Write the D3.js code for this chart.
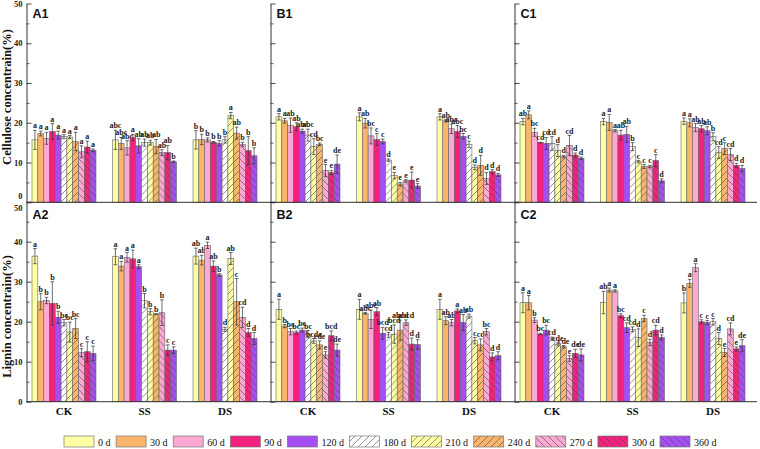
<!DOCTYPE html>
<html><head><meta charset="utf-8">
<script src="https://cdn.jsdelivr.net/npm/d3@7"></script>
<style>body{margin:0;background:#fff}svg{display:block}</style>
</head><body><svg id="c" width="760" height="449"></svg>
<script>
const categories = ["CK","SS","DS"];
const periods = ["0 d","30 d","60 d","90 d","120 d","180 d","210 d","240 d","270 d","300 d","360 d"];
const yTicks = [0,10,20,30,40,50];
const yMinorTicks = [5,15,25,35,45];
const yTitles = ["Cellulose concentrain(%)","Lignin concentrain(%)"];
const panelLabels = [["A1","B1","C1"],["A2","B2","C2"]];

// ---- A1 (cellulose) ----
const A1_mean = [[15.7,17.3,16.1,17.8,16.9,16.5,16.4,15.3,12.7,13.9,13.1],[15.7,14.8,13.7,16.3,14.2,15.0,15.0,14.0,12.5,12.5,10.2],[15.7,15.8,15.7,15.1,14.8,15.7,21.8,17.4,14.6,13.0,11.7]];
const A1_err  = [[2.4,0.6,1.5,2.0,1.0,0.5,0.4,2.3,1.5,1.5,0.3],[2.4,1.5,1.8,0.8,1.8,0.9,0.6,1.8,0.7,1.8,0.2],[2.3,1.3,0.5,0.2,0.7,0.8,0.8,1.5,0.5,3.5,2.0]];
const A1_sig  = [["a","a","a","a","a","a","a","a","a","a","a"],["abc","abc","abc","a","ab","ab","ab","ab","ab","ab","b"],["b","b","b","b","b","b","a","ab","b","b","b"]];
// ---- B1 ----
const B1_mean = [[21.5,20.5,19.4,19.0,17.9,16.9,14.0,14.6,8.0,7.5,9.6],[21.5,19.9,16.7,15.8,15.3,10.6,6.7,4.6,5.4,5.6,4.1],[21.5,20.5,18.5,17.8,16.6,14.6,8.8,9.3,6.0,7.7,6.9]];
const B1_err  = [[0.8,0.6,1.8,1.0,0.5,1.5,2.0,0.3,1.5,0.5,2.3],[1.0,1.2,2.0,1.5,0.6,0.3,0.8,0.4,0.3,2.0,0.6],[0.8,0.3,1.2,1.5,0.7,0.8,0.6,2.5,1.5,0.5,0.4]];
const B1_sig  = [["a","a","ab","ab","abc","abc","cd","bc","e","e","de"],["a","ab","bc","c","c","d","e","e","e","e","e"],["a","ab","abc","abc","bc","c","d","d","d","d","d"]];
// ---- C1 ----
const C1_mean = [[20.3,22.0,17.6,15.0,14.8,14.8,13.0,11.5,14.3,11.9,11.1],[20.3,20.1,18.0,16.9,17.1,14.0,10.2,9.0,9.0,10.5,5.4],[20.4,20.0,18.8,18.5,18.0,16.5,12.5,13.5,12.0,9.3,8.5]];
const C1_err  = [[0.8,1.0,1.0,0.1,1.5,1.7,1.5,0.3,2.5,0.5,0.3],[0.8,2.0,0.3,1.2,2.0,1.0,0.3,0.5,0.3,1.5,0.5],[0.8,1.0,1.0,0.8,1.0,1.0,1.5,1.5,1.5,0.5,0.8]];
const C1_sig  = [["ab","a","bc","cd","cd","cd","d","d","cd","d","d"],["a","a","a","ab","ab","b","c","c","c","c","d"],["a","a","ab","ab","ab","b","cd","c","cd","d","d"]];
// ---- A2 (lignin) ----
const A2_mean = [[36.4,25.0,25.3,24.6,21.1,19.75,17.4,18.3,12.25,12.5,12.1],[36.25,33.9,36.1,35.7,33.75,25.25,22.5,21.9,22.25,12.9,12.9],[36.4,35.4,39.1,33.9,31.7,18.1,35.8,25.0,21.1,17.3,15.8]];
const A2_err  = [[1.9,2.0,0.8,5.4,1.5,0.8,2.5,2.5,1.0,2.5,1.8],[2.0,1.2,1.2,2.2,0.5,1.8,0.8,0.1,3.2,1.3,0.8],[2.0,1.2,0.8,1.3,0.3,0.5,1.5,5.8,2.5,1.0,1.5]];
const A2_sig  = [["a","b","b","b","b","bc","bc","bc","c","c","c"],["a","a","a","a","a","b","b","b","b","c","c"],["ab","ab","a","ab","b","d","ab","c","cd","d","d"]];
// ---- B2 ----
const B2_mean = [[23.1,18.9,17.5,17.25,17.9,16.9,15.2,14.2,11.7,16.5,12.9],[23.1,22.1,20.6,22.5,17.1,16.7,16.9,17.9,19.75,14.4,14.3],[23.1,20.25,19.75,22.7,19.8,21.4,15.25,14.2,17.5,11.2,11.5]];
const B2_err  = [[2.5,0.4,0.8,0.4,0.5,0.9,0.6,1.0,0.8,1.2,1.5],[2.5,0.2,2.3,1.0,1.5,0.6,2.3,2.5,0.7,1.5,1.2],[2.5,1.0,0.8,0.5,2.0,0.5,0.8,1.5,0.8,1.0,1.0]];
const B2_sig  = [["a","b","bc","bc","bc","bc","bcde","cde","e","bcd","de"],["a","abc","abc","ab","bcd","cd","bcd","abcd","abcd","d","d"],["a","ab","ab","a","ab","ab","c","cd","bc","d","d"]];
// ---- C2 ----
const C2_mean = [[24.75,24.75,20.4,16.9,17.9,15.75,14.3,13.75,10.8,12.1,11.7],[24.8,27.9,27.7,21.5,18.5,18.1,16.0,20.8,14.8,17.9,16.1],[24.7,29.6,33.5,20.0,19.8,20.0,15.8,12.3,18.2,13.2,14.0]];
const C2_err  = [[2.5,1.8,0.6,0.2,1.2,0.4,0.4,0.3,0.7,1.0,1.5],[2.8,0.5,0.3,0.5,1.2,0.6,2.2,0.8,0.8,1.2,0.6],[2.5,1.0,1.0,0.5,0.5,0.8,1.5,1.0,1.5,0.5,1.5]];
const C2_sig  = [["a","a","b","bc","bc","cd","cde","cde","e","de","de"],["ab","a","a","bc","cd","cd","d","c","d","cd","d"],["b","a","a","c","c","c","d","e","cd","e","de"]];

const panelData = [
  [{m:A1_mean,e:A1_err,s:A1_sig},{m:B1_mean,e:B1_err,s:B1_sig},{m:C1_mean,e:C1_err,s:C1_sig}],
  [{m:A2_mean,e:A2_err,s:A2_sig},{m:B2_mean,e:B2_err,s:B2_sig},{m:C2_mean,e:C2_err,s:C2_sig}]
];

// ---- styles ----
const fills = ["#FFFFA6","#F9B56C","#FBA9D3","#F4217F","#A54FF3","#FFFFFF","#FFFFA6","#F9B56C","#FBA9D3","#F4217F","#A54FF3"];
const hatchDir = [null,null,null,null,null,"/","/","/","\\","\\","\\"];
const serif = "'Liberation Serif','Times New Roman',serif";
const sans = "'Liberation Sans',Arial,sans-serif";

const svg = d3.select("#c");
const defs = svg.append("defs");
periods.forEach((p,i)=>{
  if(!hatchDir[i]) return;
  const pat = defs.append("pattern").attr("id","pat"+i)
    .attr("patternUnits","userSpaceOnUse").attr("width",7).attr("height",7);
  pat.append("rect").attr("width",7).attr("height",7).attr("fill",fills[i]);
  pat.append("path")
    .attr("d", hatchDir[i]==="/" ? "M-1,1L1,-1M0,7L7,0M6,8L8,6" : "M-1,6L1,8M0,0L7,7M6,-1L8,1")
    .attr("stroke","#4a4a4a").attr("stroke-width",0.6).attr("fill","none");
});
const fillOf = i => hatchDir[i] ? `url(#pat${i})` : fills[i];

const axisX0 = 26.5, panelStep = 244, rightEnd = 757;
const rows = [{y0:202.3, y50:3.5, title:97}, {y0:401.7, y50:201.7, title:316.5}];

rows.forEach((row, r) => {
  const y = d3.scaleLinear().domain([0,50]).range([row.y0, row.y50]);
  svg.append("text")
    .attr("transform", `translate(10.5,${row.title}) rotate(-90)`)
    .attr("text-anchor","middle").attr("font-family",serif).attr("font-weight","bold")
    .attr("font-size",12.5).attr("fill","#111").text(yTitles[r]);

  for (let c = 0; c < 3; c++) {
    const ax = axisX0 + c*panelStep;
    const g = svg.append("g").attr("transform",`translate(${ax},0)`);
    g.append("g").call(d3.axisLeft(y).tickValues(yMinorTicks).tickSizeInner(-3).tickSizeOuter(0).tickFormat(""))
      .call(s=>s.select(".domain").remove())
      .selectAll("line").attr("stroke","#333").attr("stroke-width",0.8);
    const maj = g.append("g").call(d3.axisLeft(y).tickValues(yTicks).tickSizeInner(-5).tickSizeOuter(0).tickPadding(4)
      .tickFormat(c===0 ? d3.format("d") : ""));
    maj.select(".domain").attr("stroke","#333").attr("stroke-width",1);
    maj.selectAll("line").attr("stroke","#333").attr("stroke-width",0.9);
    maj.selectAll("text").attr("font-family",serif).attr("font-weight","bold").attr("font-size",8.5).attr("fill","#222");
    if (c===0) {
      maj.selectAll(".tick").filter(d => (r===0 && d===0)).select("text").attr("dy","-0.5em");
      maj.selectAll(".tick").filter(d => (r===1 && d===50)).select("text").attr("dy","1.0em");
    }

    svg.append("text").attr("x", ax+6).attr("y", r===0 ? 17.5 : 218.5)
      .attr("font-family",sans).attr("font-weight","bold").attr("font-size",12.5).attr("fill","#111")
      .text(panelLabels[r][c]);

    const x = d3.scaleBand().domain(categories).range([ax+5.5, ax+230.5]).paddingInner(0.205).paddingOuter(0);
    const xi = d3.scaleBand().domain(periods).range([0, x.bandwidth()]).padding(0);
    const data = panelData[r][c];

    categories.forEach((cat, ci) => {
      const gg = svg.append("g").attr("transform",`translate(${x(cat)},0)`);
      periods.forEach((p, pi) => {
        const m = data.m[ci][pi], e = data.e[ci][pi];
        const bx = xi(p), bw = xi.bandwidth(), cx = bx + bw/2;
        gg.append("rect").attr("x",bx).attr("y",y(m)).attr("width",bw).attr("height",y(0)-y(m))
          .attr("fill",fillOf(pi)).attr("stroke","#666").attr("stroke-width",0.6);
        const eg = gg.append("g").attr("stroke","#333").attr("stroke-width",0.7);
        eg.append("line").attr("x1",cx).attr("x2",cx).attr("y1",y(m-e)).attr("y2",y(m+e));
        eg.append("line").attr("x1",cx-1.8).attr("x2",cx+1.8).attr("y1",y(m+e)).attr("y2",y(m+e));
        eg.append("line").attr("x1",cx-1.8).attr("x2",cx+1.8).attr("y1",y(m-e)).attr("y2",y(m-e));
        gg.append("text").attr("x",cx).attr("y",y(m+e)-2).attr("text-anchor","middle")
          .attr("font-family",serif).attr("font-weight","bold").attr("font-size",8).attr("fill","#222")
          .text(data.s[ci][pi]);
      });
    });

    if (r===1) {
      const xa = svg.append("g").attr("transform",`translate(0,${row.y0})`)
        .call(d3.axisBottom(x).tickSize(0).tickPadding(6));
      xa.select(".domain").remove();
      xa.selectAll("text").attr("font-family",serif).attr("font-weight","bold").attr("font-size",11).attr("fill","#111");
    }
  }
  svg.append("line").attr("x1",axisX0).attr("x2",rightEnd).attr("y1",row.y0).attr("y2",row.y0)
    .attr("stroke","#333").attr("stroke-width",1);
});

// legend
const lg = svg.append("g");
let lx = 64;
periods.forEach((p,i)=>{
  lg.append("rect").attr("x",lx).attr("y",436).attr("width",30).attr("height",11)
    .attr("fill",fillOf(i)).attr("stroke","#777").attr("stroke-width",0.7);
  const t = lg.append("text").attr("x",lx+34).attr("y",445.5).attr("font-family",serif)
    .attr("font-size",10).attr("fill","#111").text(p);
  lx += 30 + 4 + t.node().getComputedTextLength() + 5.6;
});
</script></body></html>
